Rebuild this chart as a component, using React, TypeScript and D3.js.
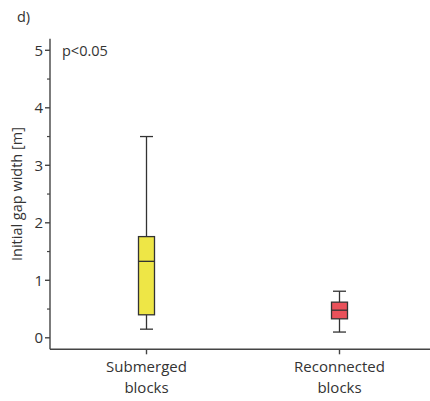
import React from "react";
import * as d3 from "d3";

const categories = ["Submerged blocks", "Reconnected blocks"];
const whiskerLow = [0.15, 0.1];
const q1 = [0.4, 0.33];
const median = [1.33, 0.48];
const q3 = [1.76, 0.62];
const whiskerHigh = [3.5, 0.81];
const fills = ["#EEE646", "#E9515A"];
const yTicks = [0, 1, 2, 3, 4, 5];
const yMinorTicks = [0.5, 1.5, 2.5, 3.5, 4.5];

const W = 430;
const H = 401;
const FONT = "'Open Sans', 'Liberation Sans', sans-serif";
const TXT = "#333";

export default function App() {
  const x = d3.scalePoint<string>().domain(categories).range([50, 436]).padding(0.5);
  const y = d3.scaleLinear().domain([-0.2, 5.2]).range([349.3, 38.8]);
  const axisX = 50;
  const axisY = y(-0.2);
  const boxW = 16;
  const capW = 13;

  return (
    <svg width={W} height={H} style={{ position: "absolute", left: 0, top: 0 }} fontFamily={FONT}>
      <rect width={W} height={H} fill="#fff" />
      <text x={17} y={22} fontSize={14.5} fill={TXT}>d)</text>
      <text x={62} y={55.5} fontSize={14.5} fill={TXT}>p&lt;0.05</text>

      {/* Y axis */}
      <line x1={axisX} x2={axisX} y1={y(5.2)} y2={axisY} stroke="#444" strokeWidth={1.4} />
      {yTicks.map((t) => (
        <g key={"t" + t}>
          <line x1={axisX - 5} x2={axisX} y1={y(t)} y2={y(t)} stroke="#444" strokeWidth={1.4} />
          <text x={axisX - 7} y={y(t)} dy="0.36em" textAnchor="end" fontSize={15} fill={TXT}>{t}</text>
        </g>
      ))}
      {yMinorTicks.map((t) => (
        <line key={"m" + t} x1={axisX - 3} x2={axisX} y1={y(t)} y2={y(t)} stroke="#444" strokeWidth={1.2} />
      ))}
      <text
        transform={`translate(22,${(y(0) + y(5)) / 2}) rotate(-90)`}
        textAnchor="middle"
        fontSize={14.5}
        fill={TXT}
      >
        Initial gap width [m]
      </text>

      {/* X axis */}
      <line x1={axisX} x2={W} y1={axisY} y2={axisY} stroke="#444" strokeWidth={1.4} />
      {categories.map((c) => {
        const cx = x(c)!;
        const words = c.split(" ");
        return (
          <g key={"x" + c}>
            <line x1={cx} x2={cx} y1={axisY} y2={axisY + 5} stroke="#444" strokeWidth={1.4} />
            {words.map((w, i) => (
              <text key={w} x={cx} y={axisY + 23 + i * 21} textAnchor="middle" fontSize={15} fill={TXT}>
                {w}
              </text>
            ))}
          </g>
        );
      })}

      {/* Boxes */}
      {categories.map((c, i) => {
        const cx = x(c)!;
        return (
          <g key={"b" + c} stroke="#333" strokeWidth={1.3}>
            <line x1={cx} x2={cx} y1={y(whiskerHigh[i])} y2={y(q3[i])} />
            <line x1={cx} x2={cx} y1={y(q1[i])} y2={y(whiskerLow[i])} />
            <line x1={cx - capW / 2} x2={cx + capW / 2} y1={y(whiskerHigh[i])} y2={y(whiskerHigh[i])} />
            <line x1={cx - capW / 2} x2={cx + capW / 2} y1={y(whiskerLow[i])} y2={y(whiskerLow[i])} />
            <rect
              x={cx - boxW / 2}
              y={y(q3[i])}
              width={boxW}
              height={y(q1[i]) - y(q3[i])}
              fill={fills[i]}
            />
            <line x1={cx - boxW / 2} x2={cx + boxW / 2} y1={y(median[i])} y2={y(median[i])} />
          </g>
        );
      })}
    </svg>
  );
}
